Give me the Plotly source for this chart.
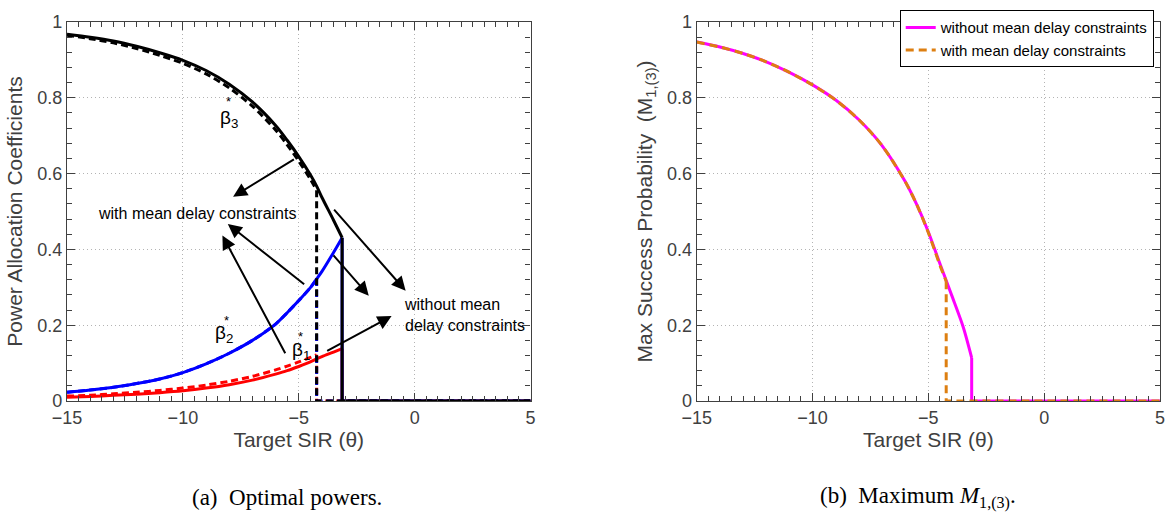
import plotly.graph_objects as go

# ---------------- data ----------------
theta_solid = [-15, -14, -13, -12, -11, -10, -9, -8, -7, -6, -5.5, -5, -4.5, -4.23, -4, -3.5, -3.13]
beta3_solid = [0.968, 0.960, 0.950, 0.936, 0.919, 0.899, 0.872, 0.836, 0.789, 0.727, 0.688, 0.645, 0.597, 0.567, 0.537, 0.477, 0.431]
beta2_solid = [0.023, 0.029, 0.036, 0.046, 0.058, 0.075, 0.098, 0.126, 0.160, 0.203, 0.233, 0.265, 0.299, 0.322, 0.342, 0.392, 0.431]
beta1_solid = [0.010, 0.012, 0.015, 0.018, 0.022, 0.027, 0.034, 0.043, 0.055, 0.071, 0.080, 0.091, 0.103, 0.111, 0.117, 0.129, 0.138]

theta_dashed = [-15, -14, -13, -12, -11, -10, -9, -8, -7, -6, -5.5, -5, -4.5, -4.23]
beta3_dashed = [0.965, 0.956, 0.945, 0.930, 0.912, 0.891, 0.863, 0.826, 0.778, 0.715, 0.676, 0.633, 0.585, 0.556]
beta2_dashed = [0.023, 0.029, 0.036, 0.046, 0.058, 0.075, 0.098, 0.126, 0.160, 0.203, 0.233, 0.265, 0.299, 0.322]
beta1_dashed = [0.013, 0.015, 0.019, 0.023, 0.028, 0.034, 0.042, 0.052, 0.065, 0.082, 0.092, 0.103, 0.115, 0.122]

theta_m_without = [-15, -14, -13, -12, -11, -10, -9, -8, -7, -6, -5.5, -5, -4.5, -4, -3.5, -3.13]
m_without = [0.947, 0.934, 0.917, 0.895, 0.867, 0.834, 0.794, 0.742, 0.674, 0.579, 0.518, 0.446, 0.362, 0.280, 0.196, 0.114]
theta_m_with = [-15, -14, -13, -12, -11, -10, -9, -8, -7, -6, -5.5, -5, -4.5, -4.23]
m_with = [0.947, 0.934, 0.917, 0.895, 0.867, 0.834, 0.794, 0.742, 0.674, 0.579, 0.518, 0.444, 0.358, 0.316]

theta_cut_without = -3.13
theta_cut_with = -4.23
theta_max = 5

legend_names = ["without mean delay constraints", "with mean delay constraints"]

# ---------------- styling ----------------
FONT = "Liberation Sans, Arial, Helvetica, sans-serif"
SERIF = "Liberation Serif, Times New Roman, serif"
AX = "#404040"
GRID = "#b3b3b3"
DASH_L = "7px,4px"
DASH_R = "8px,5px"

fig = go.Figure()


def add_series(xs, ys, cut, color, dash, xa, ya, name=None, legend=False, width=3):
    # smooth curve part
    fig.add_trace(go.Scatter(x=xs, y=ys, mode="lines", xaxis=xa, yaxis=ya,
                             line=dict(color=color, width=width, dash=dash, shape="spline", smoothing=0.8),
                             name=name, showlegend=legend, legendgroup=name, hoverinfo="skip"))
    # drop to zero and flat tail
    fig.add_trace(go.Scatter(x=[xs[-1], cut, theta_max], y=[ys[-1], 0, 0], mode="lines", xaxis=xa, yaxis=ya,
                             line=dict(color=color, width=width, dash=dash),
                             name=name, showlegend=False, legendgroup=name, hoverinfo="skip"))


# left panel
add_series(theta_solid, beta1_solid, theta_cut_without, "#ff0000", "solid", "x", "y")
add_series(theta_dashed, beta1_dashed, theta_cut_with, "#ff0000", DASH_L, "x", "y")
add_series(theta_solid, beta2_solid, theta_cut_without, "#0000ff", "solid", "x", "y")
add_series(theta_dashed, beta2_dashed, theta_cut_with, "#0000ff", DASH_L, "x", "y")
add_series(theta_solid, beta3_solid, theta_cut_without, "#000000", "solid", "x", "y")
add_series(theta_dashed, beta3_dashed, theta_cut_with, "#000000", DASH_L, "x", "y")

# right panel
add_series(theta_m_without, m_without, theta_cut_without, "#ff00ff", "solid", "x2", "y2",
           name=legend_names[0], legend=True)
add_series(theta_m_with, m_with, theta_cut_with, "#dd7f11", DASH_R, "x2", "y2",
           name=legend_names[1], legend=True)


def axis(domain, anchor, title, xaxis=True):
    d = dict(domain=domain, anchor=anchor, showline=True, linecolor=AX, linewidth=1.4, mirror="allticks",
             ticks="inside", ticklen=8, tickcolor=AX, tickwidth=1.3,
             tickfont=dict(family=FONT, size=18, color=AX),
             showgrid=True, gridcolor=GRID, griddash="1px,3px", gridwidth=1, zeroline=False,
             title=dict(text=title, font=dict(family=FONT, size=21, color=AX)))
    if xaxis:
        d.update(range=[-15, 5], tickmode="linear", tick0=-15, dtick=5,
                 minor=dict(ticks="inside", ticklen=5, tickcolor=AX, tickwidth=1.2, dtick=0.5, tick0=0,
                            showgrid=False))
        d["title"]["standoff"] = 4
    else:
        d.update(range=[0, 1], tickmode="linear", tick0=0, dtick=0.2,
                 minor=dict(ticks="inside", ticklen=5, tickcolor=AX, tickwidth=1.2, dtick=0.04, tick0=0,
                            showgrid=False))
        d["title"]["standoff"] = 8
    return d


L, R, T, B = 67.3, 11.3, 10, 117.3
W, H = 1175, 518
PW = W - L - R
PH = H - T - B
left_dom = [0, (532.3 - L) / PW]
right_dom = [(699 - L) / PW, 1]

fig.update_layout(
    width=W, height=H, margin=dict(l=L, r=R, t=T, b=B, pad=0),
    paper_bgcolor="white", plot_bgcolor="white",
    xaxis=axis(left_dom, "y", "Target SIR (\u03b8)"),
    yaxis=axis([0, 1], "x", "Power Allocation Coefficients", xaxis=False),
    xaxis2=axis(right_dom, "y2", "Target SIR (\u03b8)"),
    yaxis2=axis([0, 1], "x2", "Max Success Probability \u00a0(M<sub>1,(3)</sub>)", xaxis=False),
    legend=dict(x=(1157.4 - L) / PW, xanchor="right", y=1 + 12 / PH, yanchor="top",
                bgcolor="white", bordercolor="black", borderwidth=1,
                font=dict(family=FONT, size=15, color="black"), tracegroupgap=0),
    showlegend=True,
)

# arrows: (tail_x, tail_y, head_x, head_y) in data units of the left panel
arrows = [
    (-5.146, 0.640, -7.834, 0.539),
    (-4.703, 0.305, -8.062, 0.467),
    (-5.550, 0.122, -8.295, 0.437),
    (-3.559, 0.388, -1.981, 0.278),
    (-3.533, 0.509, -0.390, 0.291),
    (-3.839, 0.130, -0.996, 0.224),
]
for tx, ty, hx, hy in arrows:
    fig.add_annotation(x=hx, y=hy, ax=tx, ay=ty, xref="x", yref="y", axref="x", ayref="y",
                       text="", showarrow=True, arrowhead=2, arrowsize=1.4, arrowwidth=2,
                       arrowcolor="black", standoff=0, startstandoff=0)

txt = dict(xref="x", yref="y", showarrow=False, font=dict(family=FONT, size=16, color="black"))
fig.add_annotation(x=-9.40, y=0.495, text="with mean delay constraints", xanchor="center", yanchor="middle", **txt)
fig.add_annotation(x=-0.535, y=0.226, text="without mean<br>delay constraints", xanchor="left",
                   yanchor="middle", align="left", **txt)

blab = dict(xref="x", yref="y", showarrow=False, font=dict(family=FONT, size=19, color="black"),
            xanchor="left", yanchor="middle")
fig.add_annotation(x=-8.50, y=0.743, text="\u03b2<sub>3</sub>", **blab)
fig.add_annotation(x=-8.69, y=0.177, text="\u03b2<sub>2</sub>", **blab)
fig.add_annotation(x=-5.38, y=0.132, text="\u03b2<sub>1</sub>", **blab)
star = dict(xref="x", yref="y", showarrow=False, font=dict(family=FONT, size=13, color="black"),
            xanchor="center", yanchor="middle", text="*")
fig.add_annotation(x=-8.04, y=0.790, **star)
fig.add_annotation(x=-8.13, y=0.212, **star)
fig.add_annotation(x=-4.91, y=0.169, **star)

# captions
cap = dict(xref="paper", yref="paper", showarrow=False, font=dict(family=SERIF, size=23, color="black"),
           xanchor="center", yanchor="middle")
fig.add_annotation(x=(288 - L) / PW, y=1 - (500 - T) / PH, text="(a) \u00a0Optimal powers.", **cap)
fig.add_annotation(x=(921 - L) / PW, y=1 - (500 - T) / PH,
                   text="(b) \u00a0Maximum <i>M</i><sub>1,(3)</sub>.", **cap)

fig.write_html("out.html")
